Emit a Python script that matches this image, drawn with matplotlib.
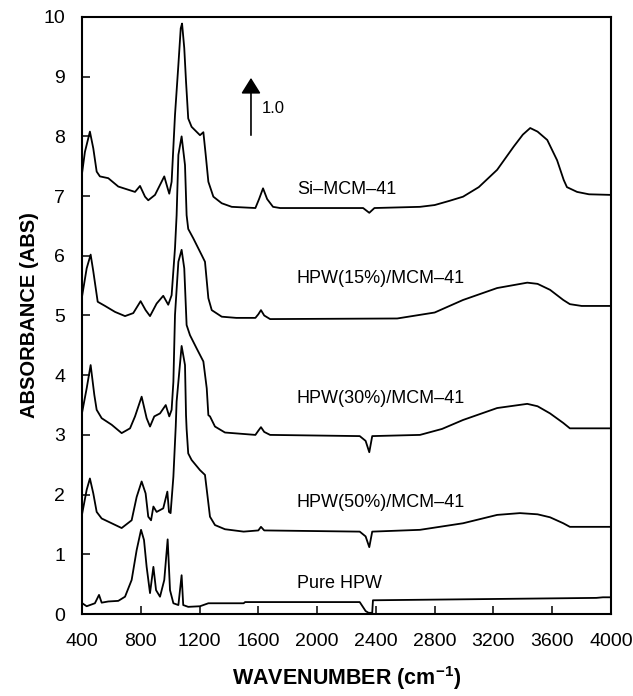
import matplotlib
matplotlib.use("Agg")
import matplotlib.pyplot as plt

# wavenumber / absorbance, one pair of lists per sample
si_x = [402, 420, 454, 477, 500, 522, 579, 647, 761, 795, 829, 851, 897, 960, 983, 994, 1010, 1033, 1056, 1072,
        1081, 1096, 1108, 1123, 1146, 1203, 1226, 1242, 1260, 1294, 1351, 1419, 1580, 1605, 1632, 1660,
        1700, 1748, 2000, 2313, 2355, 2390, 2700, 2800, 2900, 2993, 3100, 3225, 3338, 3400, 3450, 3500,
        3566, 3633, 3678, 3700, 3769, 3850, 4000]
si_y = [7.41, 7.74, 8.08, 7.80, 7.41, 7.33, 7.30, 7.16, 7.07, 7.17, 6.99, 6.93, 7.02, 7.33, 7.13, 7.04, 7.24, 8.36, 9.20, 9.81,
        9.89, 9.48, 8.92, 8.30, 8.16, 8.02, 8.07, 7.69, 7.24, 6.99, 6.88, 6.82, 6.80, 6.95, 7.13, 6.95,
        6.82, 6.80, 6.80, 6.80, 6.72, 6.80, 6.82, 6.85, 6.92, 6.99, 7.15, 7.44, 7.83, 8.03, 8.14, 8.08,
        7.94, 7.60, 7.27, 7.15, 7.07, 7.03, 7.02]

hpw15_x = [402, 432, 459, 477, 507, 557, 625, 693, 749, 799, 833, 863, 908, 953, 987, 1010, 1033, 1044, 1056, 1078,
           1101, 1112, 1123, 1158, 1215, 1237, 1260, 1283, 1351, 1450, 1580, 1600, 1618, 1640, 1680, 2545,
           2800, 2993, 3225, 3430, 3500, 3585, 3675, 3720, 3800, 4000]
hpw15_y = [5.34, 5.79, 6.02, 5.74, 5.23, 5.16, 5.06, 4.99, 5.04, 5.24, 5.09, 4.99, 5.20, 5.33, 5.18, 5.34, 6.13, 6.68, 7.69, 8.00,
           7.52, 6.68, 6.45, 6.29, 6.01, 5.90, 5.29, 5.09, 4.98, 4.96, 4.96, 5.02, 5.09, 5.0, 4.94, 4.95,
           5.05, 5.26, 5.46, 5.55, 5.53, 5.43, 5.26, 5.19, 5.16, 5.16]

hpw30_x = [402, 432, 459, 484, 500, 534, 602, 670, 727, 761, 806, 840, 863, 892, 931, 970, 994, 1010, 1022, 1033,
           1056, 1078, 1096, 1112, 1135, 1180, 1226, 1249, 1260, 1271, 1305, 1373, 1580, 1600, 1618, 1640,
           1680, 2290, 2330, 2355, 2375, 2700, 2850, 2993, 3225, 3430, 3500, 3585, 3675, 3720, 3800, 4000]
hpw30_y = [3.39, 3.78, 4.17, 3.67, 3.42, 3.28, 3.17, 3.03, 3.11, 3.31, 3.64, 3.28, 3.14, 3.31, 3.36, 3.50, 3.31, 3.42, 3.89, 5.01,
           5.90, 6.10, 5.79, 4.84, 4.67, 4.45, 4.23, 3.78, 3.33, 3.31, 3.14, 3.04, 3.0, 3.07, 3.13, 3.05,
           3.0, 2.98, 2.9, 2.71, 2.98, 3.0, 3.1, 3.25, 3.45, 3.52, 3.48, 3.36, 3.2, 3.11, 3.11, 3.11]

hpw50_x = [402, 432, 454, 477, 500, 534, 602, 670, 738, 772, 806, 833, 851, 870, 886, 908, 953, 981, 992, 1003,
           1022, 1038, 1044, 1078, 1101, 1108, 1112, 1123, 1146, 1203, 1237, 1255, 1271, 1305, 1373, 1500,
           1600, 1618, 1640, 2290, 2330, 2355, 2375, 2700, 2993, 3225, 3380, 3500, 3585, 3675, 3720, 4000]
hpw50_y = [1.69, 2.08, 2.27, 2.02, 1.71, 1.60, 1.52, 1.44, 1.57, 1.96, 2.22, 2.02, 1.63, 1.57, 1.80, 1.71, 1.77, 2.05, 1.71, 1.69,
           2.30, 3.14, 3.56, 4.49, 4.17, 3.33, 3.10, 2.69, 2.58, 2.41, 2.33, 1.96, 1.63, 1.49, 1.42, 1.38,
           1.40, 1.46, 1.40, 1.38, 1.30, 1.12, 1.38, 1.41, 1.52, 1.66, 1.69, 1.67, 1.62, 1.52, 1.46, 1.46]

pure_x = [402, 432, 488, 516, 534, 579, 647, 693, 738, 772, 802, 822, 840, 863, 886, 904, 931, 960, 983, 999,
          1022, 1056, 1078, 1089, 1123, 1203, 1260, 1500, 1510, 2290, 2330, 2350, 2375, 2380, 3900, 3945, 4000]
pure_y = [0.18, 0.13, 0.18, 0.32, 0.19, 0.21, 0.22, 0.29, 0.57, 1.07, 1.41, 1.24, 0.79, 0.35, 0.79, 0.40, 0.29, 0.57, 1.25, 0.40,
          0.18, 0.15, 0.65, 0.15, 0.12, 0.13, 0.18, 0.18, 0.2, 0.2, 0.05, 0.02, 0.02, 0.23, 0.27, 0.28, 0.28]

labels = ["Si\u2013MCM\u201341", "HPW(15%)/MCM\u201341", "HPW(30%)/MCM\u201341",
          "HPW(50%)/MCM\u201341", "Pure HPW"]
label_y = [7.03, 5.54, 3.54, 1.80, 0.43]   # baselines of the curve labels
label_x = 1863

x_ticks = list(range(400, 4001, 400))
y_ticks = list(range(0, 11))

plt.rcParams["font.family"] = "Liberation Sans"
plt.rcParams["mathtext.fontset"] = "custom"
plt.rcParams["mathtext.rm"] = "Liberation Sans:bold"

fig = plt.figure(figsize=(6.33, 6.96), dpi=100)
ax = fig.add_axes([0.1295, 0.1178, 0.8358, 0.8578])

for xs, ys in [(si_x, si_y), (hpw15_x, hpw15_y), (hpw30_x, hpw30_y), (hpw50_x, hpw50_y), (pure_x, pure_y)]:
    ax.plot(xs, ys, color="black", lw=1.3, solid_joinstyle="round")

for txt, yy in zip(labels, label_y):
    ax.text(label_x, yy, txt, fontsize=13, va="baseline", ha="left")

# scale arrow
ax.annotate("", xy=(1550, 8.98), xytext=(1550, 8.02),
            arrowprops=dict(arrowstyle="-|>,head_length=0.4,head_width=0.25", color="black",
                            lw=1.2, mutation_scale=24, shrinkA=0, shrinkB=0))
ax.text(1625, 8.46, "1.0", fontsize=12, va="center", ha="left")

ax.set_xlim(400, 4000)
ax.set_ylim(0, 10)
ax.set_xticks(x_ticks)
ax.set_yticks(y_ticks)
ax.tick_params(direction="in", length=5.5, width=1.1, labelsize=14, top=False, right=False)
ax.tick_params(axis="x", pad=14)
ax.tick_params(axis="y", pad=12)
for s in ax.spines.values():
    s.set_linewidth(1.5)

ax.set_xlabel(r"WAVENUMBER (cm$^{-1}$)", fontweight="bold", fontsize=15.5, labelpad=10)
ax.set_ylabel("ABSORBANCE (ABS)", fontweight="bold", fontsize=14.5, labelpad=3)

fig.savefig("out.png", dpi=100)
